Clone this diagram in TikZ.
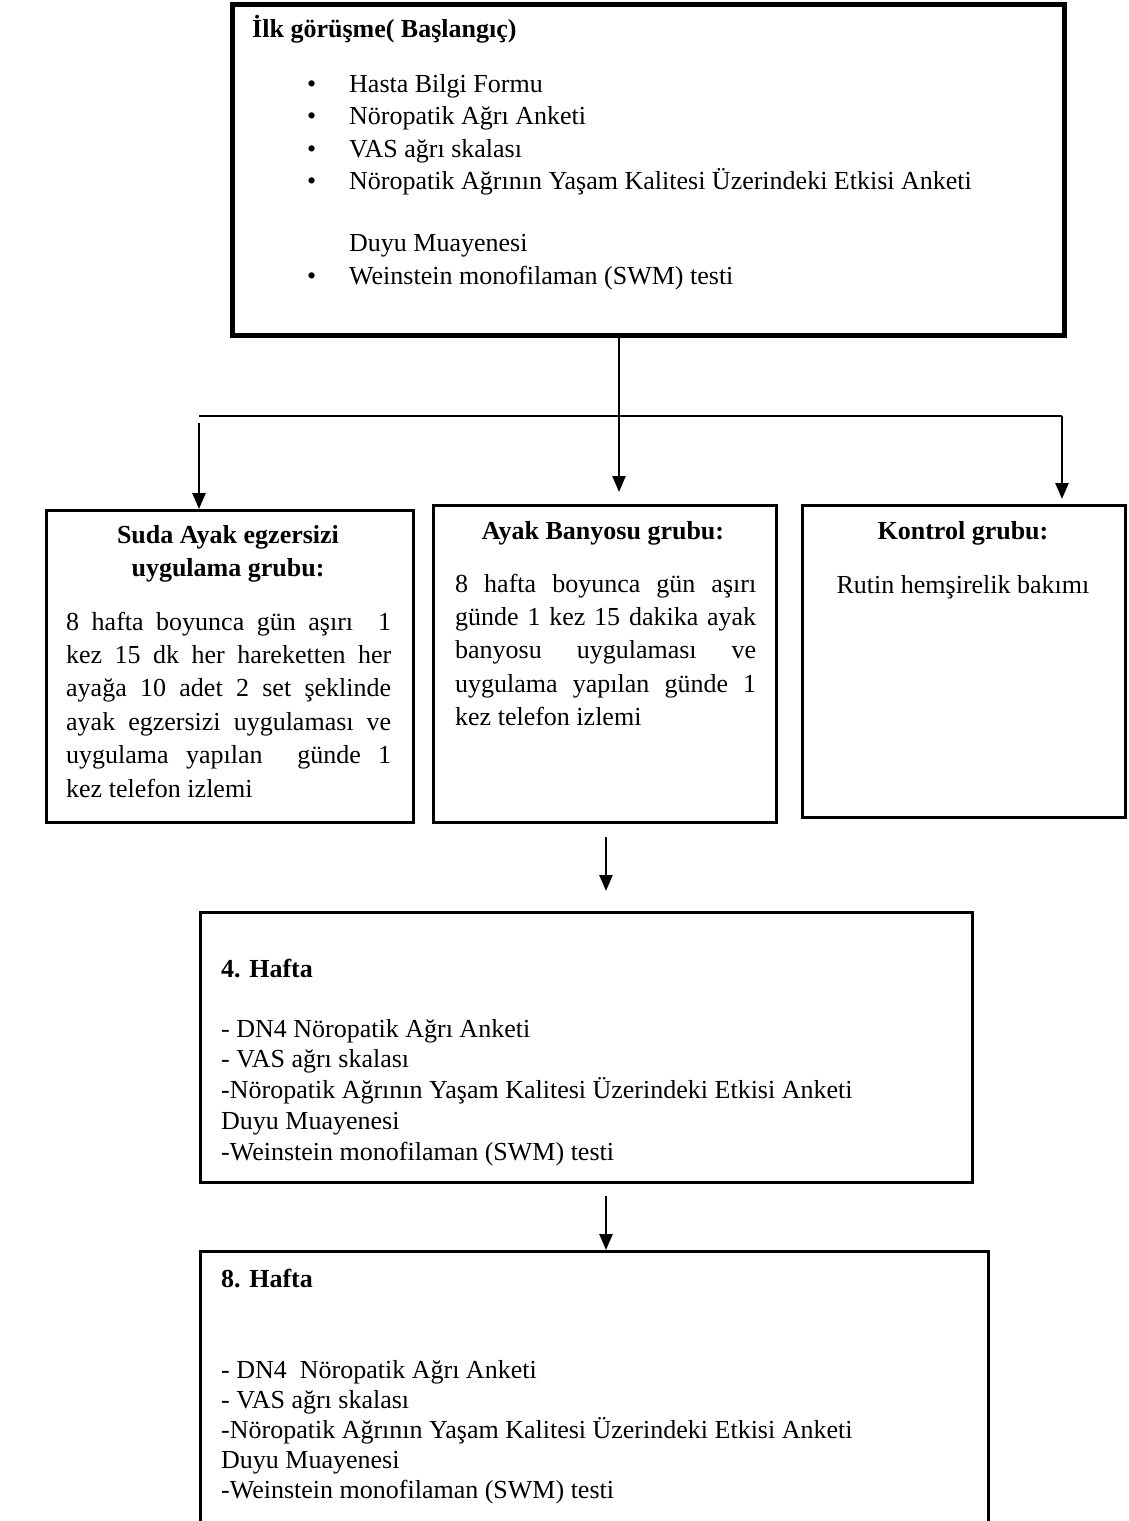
\documentclass[tikz,border=0pt]{standalone}
\usepackage{fontspec}
\setmainfont{Liberation Serif}
\usetikzlibrary{arrows.meta}

\begin{document}
\begin{tikzpicture}[x=1pt, y=-1pt,
	bb/.style = {draw, line width=5pt, inner sep=0, anchor=north west},
	b/.style = {draw, line width=2.5pt, inner sep=0, anchor=north west},
	tx/.style = {anchor=base west, inner sep=0, font=\fontsize{26}{33}\selectfont},
	hd/.style = {tx, font=\fontsize{26}{33}\selectfont\bfseries},
	pj/.style = {anchor=base west, inner sep=0, align=justify, font=\fontsize{26}{33.4}\selectfont},
	ar/.style = {-{Triangle[length=16pt, width=13pt]}, line width=2.5pt}
	]

	\useasboundingbox (0,0) rectangle (1129,1521);

	% ===== ===== ===== ===== =====

	% Boxes
	\node[bb, minimum width=832, minimum height=331]	(start)	at	(230, 2)	{};
	\node[b, minimum width=367, minimum height=312]	(g1)	at	(45, 509)	{};
	\node[b, minimum width=343, minimum height=317]	(g2)	at	(432, 504)	{};
	\node[b, minimum width=323, minimum height=312]	(g3)	at	(801, 504)	{};
	\node[b, minimum width=772, minimum height=270]	(w4)	at	(199, 911)	{};
	\node[b, minimum width=788, minimum height=290]	(w8)	at	(199, 1250)	{};

	% ===== ===== ===== ===== =====

	% Start text
	\node[hd]	(st0)	at	(252, 37)	{İlk görüşme( Başlangıç)};
	\node[tx]	(sb1)	at	(307, 92)	{\textbullet};
	\node[tx]	(st1)	at	(349, 92)	{Hasta Bilgi Formu};
	\node[tx]	(sb2)	at	(307, 124)	{\textbullet};
	\node[tx]	(st2)	at	(349, 124)	{Nöropatik Ağrı Anketi};
	\node[tx]	(sb3)	at	(307, 157)	{\textbullet};
	\node[tx]	(st3)	at	(349, 157)	{VAS ağrı skalası};
	\node[tx]	(sb4)	at	(307, 189)	{\textbullet};
	\node[tx]	(st4)	at	(349, 189)	{Nöropatik Ağrının Yaşam Kalitesi Üzerindeki Etkisi Anketi};
	\node[tx]	(st5)	at	(349, 251)	{Duyu Muayenesi};
	\node[tx]	(sb6)	at	(307, 284)	{\textbullet};
	\node[tx]	(st6)	at	(349, 284)	{Weinstein monofilaman (SWM) testi};

	% Group text
	\node[hd, anchor=base]	(g1h)	at	(228, 543)	{Suda Ayak egzersizi};
	\node[hd, anchor=base]	(g1i)	at	(228, 576)	{uygulama grubu:};
	\node[pj, text width=325]	(g1t)	at	(66, 630)
		{8 hafta boyunca gün aşırı\ \ 1\linebreak
		kez 15 dk her hareketten her\linebreak
		ayağa 10 adet 2 set şeklinde\linebreak
		ayak egzersizi uygulaması ve\linebreak
		uygulama yapılan\ \ günde 1\linebreak
		kez telefon izlemi};

	\node[hd, anchor=base]	(g2h)	at	(603, 539)	{Ayak Banyosu grubu:};
	\node[pj, text width=301]	(g2t)	at	(455, 592)
		{8 hafta boyunca gün aşırı\linebreak
		günde 1 kez 15 dakika ayak\linebreak
		banyosu uygulaması ve\linebreak
		uygulama yapılan günde 1\linebreak
		kez telefon izlemi};

	\node[hd, anchor=base]	(g3h)	at	(963, 539)	{Kontrol grubu:};
	\node[tx, anchor=base]	(g3t)	at	(963, 593)	{Rutin hemşirelik bakımı};

	% Week 4 text
	\node[hd]	(w4h)	at	(221, 977)	{4. Hafta};
	\node[tx]	(w4a)	at	(221, 1037)	{- DN4 Nöropatik Ağrı Anketi};
	\node[tx]	(w4b)	at	(221, 1067)	{- VAS ağrı skalası};
	\node[tx]	(w4c)	at	(221, 1098)	{-Nöropatik Ağrının Yaşam Kalitesi Üzerindeki Etkisi Anketi};
	\node[tx]	(w4d)	at	(221, 1129)	{Duyu Muayenesi};
	\node[tx]	(w4e)	at	(221, 1160)	{-Weinstein monofilaman (SWM) testi};

	% Week 8 text
	\node[hd]	(w8h)	at	(221, 1287)	{8. Hafta};
	\node[tx]	(w8a)	at	(221, 1378)	{- DN4\ \ Nöropatik Ağrı Anketi};
	\node[tx]	(w8b)	at	(221, 1408)	{- VAS ağrı skalası};
	\node[tx]	(w8c)	at	(221, 1438)	{-Nöropatik Ağrının Yaşam Kalitesi Üzerindeki Etkisi Anketi};
	\node[tx]	(w8d)	at	(221, 1468)	{Duyu Muayenesi};
	\node[tx]	(w8e)	at	(221, 1498)	{-Weinstein monofilaman (SWM) testi};

	% ===== ===== ===== ===== =====

	% Lines
	\coordinate	(top)	at	(619, 333);
	\coordinate	(mid)	at	(619, 492);
	\coordinate	(hl)	at	(199, 416);
	\coordinate	(hr)	at	(1062, 416);
	\coordinate	(ls)	at	(199, 423);
	\coordinate	(d1)	at	(606, 837);
	\coordinate	(d2)	at	(606, 891);
	\coordinate	(d3)	at	(606, 1196);

	\draw[ar]	(top)	--	(mid);
	\draw[line width=2.5pt]	(hl)	--	(hr);
	\draw[ar]	(ls)	--	(g1.north west -| ls);
	\draw[ar]	(hr)	--	++(0, 83);
	\draw[ar]	(d1)	--	(d2);
	\draw[ar]	(d3)	--	(w8.north west -| d3);

\end{tikzpicture}
\end{document}
